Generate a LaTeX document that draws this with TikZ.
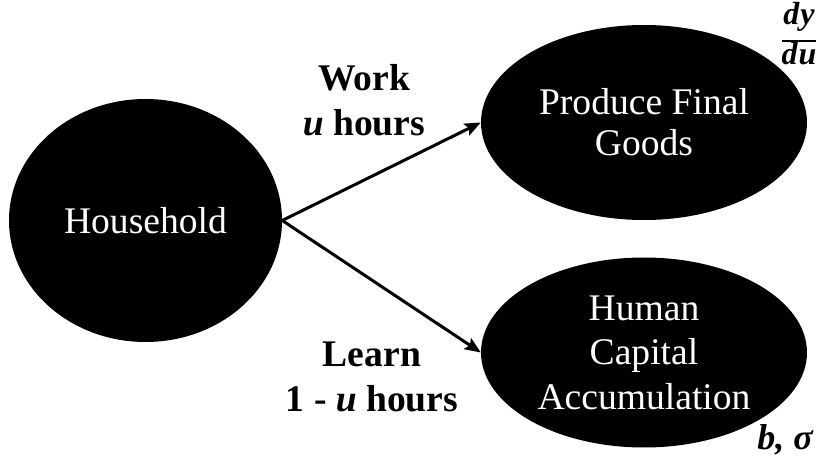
\documentclass[tikz,border=0pt]{standalone}
\usepackage{fontspec}
\setmainfont{Liberation Serif}
\usetikzlibrary{arrows.meta,shapes.geometric}
\begin{document}
\begin{tikzpicture}[x=1pt,y=-1pt,
  bubble/.style={ellipse, fill=black, text=white, align=center, inner sep=0pt},
  flow/.style={line width=3pt, -{Stealth[length=16pt,width=13pt,inset=3pt]}},
  lbl/.style={align=center, font=\fontsize{37.6}{45}\selectfont\bfseries},
  param/.style={anchor=base, inner sep=0pt, font=\fontsize{32}{36}\selectfont\bfseries\itshape}]
\useasboundingbox (0,0) rectangle (822,462);

% the three activity bubbles
\node[bubble, minimum width=273pt, minimum height=243pt,
      font=\fontsize{37.6}{43}\selectfont] (hh) at (145.5,220.5) {Household};
\node[bubble, minimum width=326pt, minimum height=195pt,
      font=\fontsize{37.6}{41}\selectfont] (goods) at (644,122.5) {Produce Final\\Goods};
\node[bubble, minimum width=326pt, minimum height=190pt,
      font=\fontsize{37.6}{44.5}\selectfont] (capital) at (644,352.5) {Human\\Capital\\Accumulation};

% time allocation
\draw[flow] (hh.east) -- (goods.west);
\draw[flow] (hh.east) -- (capital.west);

\node[lbl] (work) at (364,100) {Work\\\textit{u} hours};
\node[lbl] (learn) at (372,377) {Learn\\1 - \textit{u} hours};

% parameters: the derivative dy/du and b, sigma
\node[param] (num) at (799,25) {d\kern1pt y};
\node[param] (den) at (799,65) {d\kern1pt u};
\coordinate (barL) at (782,41);
\coordinate (barR) at (816,41);
\draw[line width=2pt] (barL) -- (barR);
\node[param, font=\fontsize{36}{40}\selectfont\bfseries\itshape] (bsig) at (785,449) {b, σ};
\end{tikzpicture}
\end{document}
